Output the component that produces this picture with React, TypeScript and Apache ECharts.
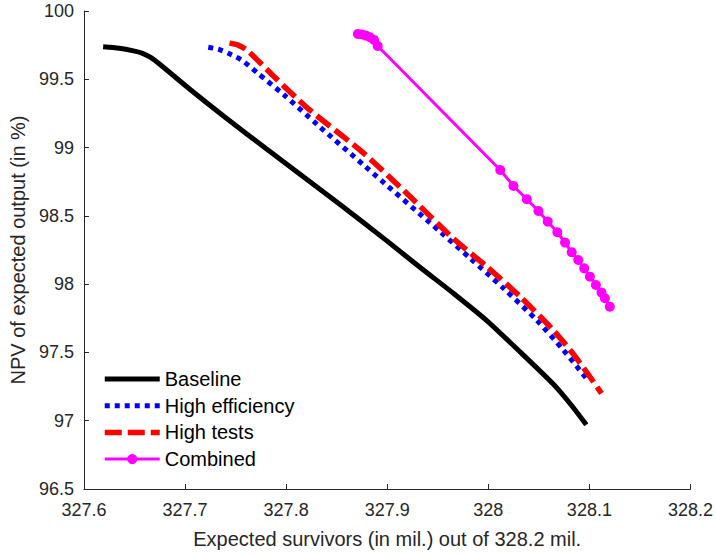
import React, { useEffect, useRef } from "react";
import * as echarts from "echarts";

const seriesNames = ["Baseline", "High efficiency", "High tests", "Combined"];

const baselineX = [327.619, 327.635, 327.648, 327.658, 327.666, 327.675, 327.706, 327.739, 327.782, 327.854, 327.9, 327.933, 327.966, 327.999, 328.032, 328.064, 328.082, 328.097];
const baselineY = [99.738, 99.727, 99.71, 99.69, 99.66, 99.61, 99.42, 99.226, 98.982, 98.58, 98.315, 98.12, 97.93, 97.73, 97.5, 97.27, 97.115, 96.97];

const effX = [327.723, 327.733, 327.743, 327.756, 327.772, 327.798, 327.831, 327.877, 327.953, 327.982, 328.015, 328.048, 328.074, 328.097];
const effY = [99.735, 99.72, 99.69, 99.641, 99.544, 99.385, 99.167, 98.87, 98.38, 98.19, 97.97, 97.735, 97.52, 97.31];

const testsX = [327.744, 327.752, 327.76, 327.769, 327.788, 327.821, 327.876, 327.92, 327.966, 327.999, 328.032, 328.064, 328.087, 328.112];
const testsY = [99.765, 99.752, 99.72, 99.66, 99.52, 99.29, 98.963, 98.66, 98.33, 98.125, 97.905, 97.665, 97.46, 97.2];

const combX = [327.871, 327.875, 327.879, 327.883, 327.887, 327.8906, 328.0118, 328.0249, 328.0381, 328.0496, 328.0588, 328.0683, 328.0759, 328.0825, 328.089, 328.0949, 328.1005, 328.1064, 328.112, 328.1153, 328.1202];
const combY = [99.832, 99.828, 99.82, 99.808, 99.788, 99.744, 98.836, 98.719, 98.622, 98.536, 98.458, 98.38, 98.304, 98.234, 98.177, 98.116, 98.055, 97.994, 97.938, 97.897, 97.835];

const xLabel = "Expected survivors (in mil.) out of 328.2 mil.";
const yLabel = "NPV of expected output (in %)";

const zip = (xs: number[], ys: number[]) => xs.map((x, i) => [x, ys[i]]);
const fmt = (v: number) => String(+v.toFixed(1));

export default function App() {
  const ref = useRef<HTMLDivElement>(null);
  useEffect(() => {
    if (!ref.current) return;
    const chart = echarts.init(ref.current, undefined, { renderer: "svg" });
    const axisColor = "#262626";
    const font = "'Liberation Sans', Arial, sans-serif";
    const hidden = { opacity: 0 };
    chart.setOption({
      animation: false,
      backgroundColor: "#ffffff",
      textStyle: { fontFamily: font },
      grid: { left: 82, right: 25, top: 11, bottom: 67, containLabel: false },
      legend: {
        orient: "vertical",
        left: 102,
        top: 369,
        padding: 0,
        itemWidth: 55,
        itemHeight: 12.5,
        itemGap: 6.7,
        textStyle: { fontSize: 20, color: "#000000", fontFamily: font },
        data: [
          { name: seriesNames[0], itemStyle: hidden, lineStyle: { width: 5 } },
          { name: seriesNames[1], itemStyle: hidden, lineStyle: { width: 5 } },
          { name: seriesNames[2], itemStyle: hidden, lineStyle: { width: 5.5 } },
          { name: seriesNames[3], lineStyle: { width: 3 } },
        ],
      },
      xAxis: {
        type: "value",
        min: 327.6,
        max: 328.2,
        interval: 0.1,
        name: xLabel,
        nameLocation: "middle",
        nameGap: 40,
        nameTextStyle: { fontSize: 20, color: axisColor, fontFamily: font },
        axisLine: { show: true, onZero: false, lineStyle: { color: axisColor, width: 1 } },
        axisTick: { show: true, inside: true, length: 5, lineStyle: { color: axisColor } },
        axisLabel: { fontSize: 18, color: axisColor, margin: 12, formatter: fmt, fontFamily: font },
        splitLine: { show: false },
      },
      yAxis: {
        type: "value",
        min: 96.5,
        max: 100,
        interval: 0.5,
        name: yLabel,
        nameLocation: "middle",
        nameRotate: 90,
        nameGap: 46,
        nameTextStyle: { fontSize: 20, color: axisColor, fontFamily: font },
        axisLine: { show: true, onZero: false, lineStyle: { color: axisColor, width: 1 } },
        axisTick: { show: true, inside: true, length: 5, lineStyle: { color: axisColor } },
        axisLabel: { fontSize: 18, color: axisColor, margin: 10, formatter: fmt, fontFamily: font },
        splitLine: { show: false },
      },
      series: [
        {
          name: seriesNames[0],
          type: "line",
          data: zip(baselineX, baselineY),
          symbol: "none",
          smooth: 0.25,
          color: "#000000",
          lineStyle: { color: "#000000", width: 5 },
        },
        {
          name: seriesNames[1],
          type: "line",
          data: zip(effX, effY),
          symbol: "none",
          smooth: 0.25,
          color: "#0000ff",
          lineStyle: { color: "#0000ff", width: 5, type: [5, 5], cap: "butt" },
        },
        {
          name: seriesNames[2],
          type: "line",
          data: zip(testsX, testsY),
          symbol: "none",
          smooth: 0.25,
          color: "#ff0000",
          lineStyle: { color: "#ff0000", width: 5.5, type: [17, 6], cap: "butt" },
        },
        {
          name: seriesNames[3],
          type: "line",
          data: zip(combX, combY),
          symbol: "circle",
          symbolSize: 10,
          color: "#ff00ff",
          itemStyle: { color: "#ff00ff" },
          lineStyle: { color: "#ff00ff", width: 3 },
        },
      ],
    });
    return () => chart.dispose();
  }, []);
  return (
    <div
      ref={ref}
      style={{ position: "fixed", left: 0, top: 0, width: 716, height: 556, background: "#fff" }}
    />
  );
}
